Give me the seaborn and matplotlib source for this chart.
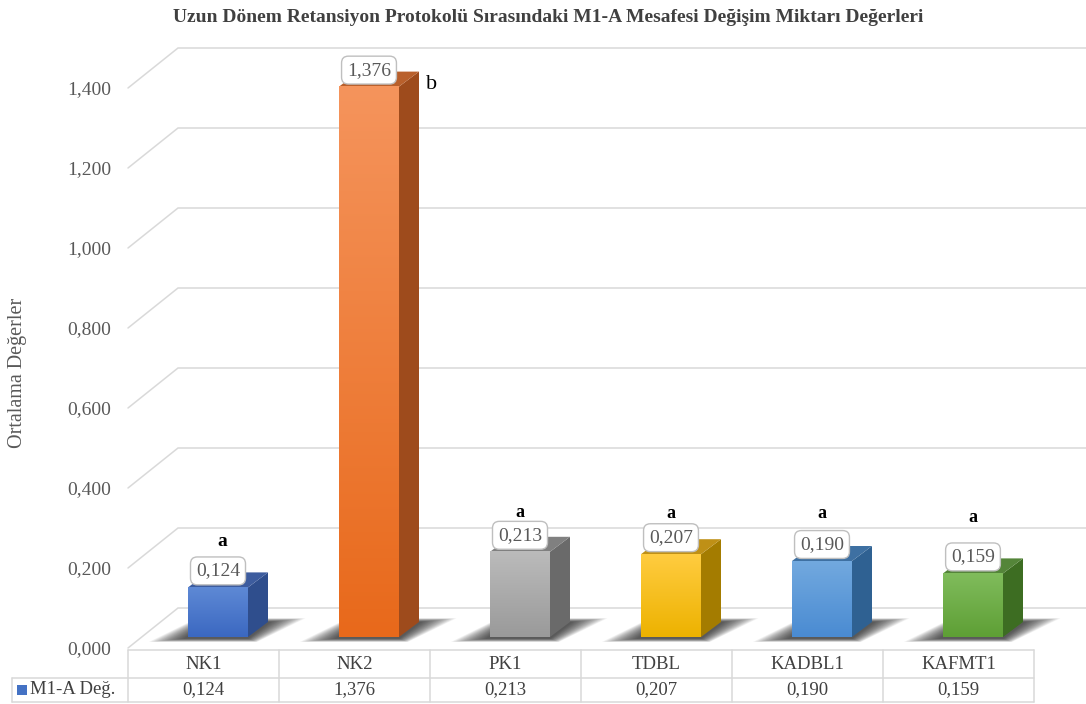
import numpy as np
import matplotlib
matplotlib.use("Agg")
import matplotlib.pyplot as plt
import seaborn as sns
from matplotlib.patches import Polygon
from matplotlib.colors import LinearSegmentedColormap

# ---- data ----
categories = ["NK1", "NK2", "PK1", "TDBL", "KADBL1", "KAFMT1"]
values = [0.124, 1.376, 0.213, 0.207, 0.190, 0.159]
value_labels = ["0,124", "1,376", "0,213", "0,207", "0,190", "0,159"]
group_letters = ["a", "b", "a", "a", "a", "a"]
series_name = "M1-A Değ."
y_ticks = [0.0, 0.2, 0.4, 0.6, 0.8, 1.0, 1.2, 1.4]
y_tick_labels = ["0,000", "0,200", "0,400", "0,600", "0,800", "1,000", "1,200", "1,400"]
title = "Uzun Dönem Retansiyon Protokolü Sırasındaki M1-A Mesafesi Değişim Miktarı Değerleri"
y_label = "Ortalama Değerler"

# ---- styling ----
face_top = ["#5E89D5", "#F5945C", "#BBBBBB", "#FFCC40", "#72A9DF", "#80BC5C"]
face_bottom = ["#3B68C1", "#E8691B", "#9A9A9A", "#EDB200", "#4A8BD2", "#5E9F35"]
side_col = ["#2F4E8D", "#9E4B1C", "#6A6A6A", "#A47C00", "#2F6192", "#3D6D22"]
topf_col = ["#3D5C9E", "#B9602C", "#808080", "#BF9016", "#3E70A2", "#548539"]
letter_offsets_px = [(4, 46), (63, 2), (0, 39), (0, 41), (0, 48), (0, 56)]
letter_sizes = [14, 16, 13, 13, 13, 13]
letter_weights = ["bold", "normal", "bold", "bold", "bold", "bold"]

sns.set_style("white")
plt.rcParams["font.family"] = ["Liberation Serif", "DejaVu Serif"]

W, H = 1086, 704
PX_X = 151.0          # pixels per category
PX_Y = 400.0          # pixels per value unit
FRONT = -11 / PX_Y    # floor front edge relative to bar baseline
BACK = 29 / PX_Y      # back wall relative to bar baseline
WALL_DX = 50 / PX_X
BAR_SHIFT = 14.5 / PX_X
BAR_W = 60 / PX_X
DEPTH_X = 20 / PX_X
DEPTH_Y = 15 / PX_Y
TEXT_C = "#404040"
LABEL_C = "#595959"
GRID_C = "#D9D9D9"

fig = plt.figure(figsize=(W / 100, H / 100), dpi=100)
left_px, right_px, bot_px, top_px = 128, W, 648, 40
ax = fig.add_axes([left_px / W, (H - bot_px) / H, (right_px - left_px) / W, (bot_px - top_px) / H])

xmin = -0.5
xmax = -0.5 + (right_px - left_px) / PX_X
ymin = FRONT
ymax = (637 - top_px) / PX_Y

sns.barplot(x=categories, y=values, hue=categories, palette=face_bottom, width=BAR_W,
            legend=False, saturation=1, linewidth=0, ax=ax, zorder=3)

# wall gridlines (front-left diagonal, then along the back wall)
for v in y_ticks:
    ax.plot([xmin, xmin + WALL_DX, xmax], [v + FRONT, v + BACK, v + BACK],
            color=GRID_C, lw=1.1, zorder=0.5, clip_on=False, solid_joinstyle="miter")

bars = sorted(ax.patches, key=lambda p: p.get_x())
grad = np.linspace(0, 1, 128).reshape(-1, 1)
for i, p in enumerate(bars):
    p.set_x(p.get_x() + BAR_SHIFT)
    x0 = p.get_x()
    w = p.get_width()
    h = p.get_height()
    x1 = x0 + w

    # soft floor shadow, built from stacked translucent layers
    n = 22
    for k in range(n):
        e = 1 - k / n
        ex, ey = 0.24 * e, 0.024 * e
        shadow = Polygon([(x0 - ex - 0.02, -0.004 - ey * 0.35),
                          (x1 + ex * 0.25, -0.004 - ey * 0.35),
                          (x1 + DEPTH_X + ex + 0.01, DEPTH_Y + ey * 0.4),
                          (x0 + DEPTH_X - ex * 0.3, DEPTH_Y + ey * 0.4)],
                         closed=True, facecolor="black", edgecolor="none",
                         alpha=0.045, zorder=1)
        ax.add_patch(shadow)

    # front face gradient
    cmap = LinearSegmentedColormap.from_list(f"g{i}", [face_bottom[i], face_top[i]])
    ax.imshow(grad, extent=(x0, x1, 0, h), origin="lower", cmap=cmap,
              aspect="auto", zorder=3.1, interpolation="bilinear")
    # side face
    ax.add_patch(Polygon([(x1, 0), (x1 + DEPTH_X, DEPTH_Y), (x1 + DEPTH_X, h + DEPTH_Y), (x1, h)],
                         closed=True, facecolor=side_col[i], edgecolor="none", zorder=2.9))
    # top face
    ax.add_patch(Polygon([(x0, h), (x1, h), (x1 + DEPTH_X, h + DEPTH_Y), (x0 + DEPTH_X, h + DEPTH_Y)],
                         closed=True, facecolor=topf_col[i], edgecolor="none", zorder=2.9))

    xc = x0 + w / 2
    ax.annotate(value_labels[i], xy=(xc, h), xytext=(0, 8), textcoords="offset pixels",
                ha="center", va="bottom", fontsize=14, color=LABEL_C, zorder=6,
                bbox=dict(boxstyle="round,pad=0.28,rounding_size=0.35", fc="white",
                          ec="#BFBFBF", lw=1.0))
    dx, dy = letter_offsets_px[i]
    ax.annotate(group_letters[i], xy=(xc, h), xytext=(dx, dy), textcoords="offset pixels",
                ha="center", va="center", fontsize=letter_sizes[i],
                fontweight=letter_weights[i], color="black", zorder=6)

ax.set_xlim(xmin, xmax)
ax.set_ylim(ymin, ymax)
ax.set_xticks([])
ax.set_xlabel("")
ax.set_yticks([v + FRONT for v in y_ticks])
ax.set_yticklabels(y_tick_labels, fontsize=14, color=LABEL_C)
ax.tick_params(axis="y", length=0, pad=12)
for s in ax.spines.values():
    s.set_visible(False)
ax.set_ylabel(y_label, fontsize=14.5, color=LABEL_C, va="center")
ax.yaxis.set_label_coords((18 - left_px) / (right_px - left_px), (bot_px - 373) / (bot_px - top_px))
ax.patch.set_alpha(0)

# ---- data table below the chart ----
tab = fig.add_axes([left_px / W, (H - 702) / H, (right_px - left_px) / W, 52 / H])
tab.set_xlim(xmin, xmax)
tab.set_ylim(52, 0)
tab.axis("off")
leg_left = xmin - (left_px - 12) / PX_X
x_end = xmin + len(categories)
lw_t = 1.1
tab.plot([xmin, x_end], [0, 0], color=GRID_C, lw=lw_t, clip_on=False)
tab.plot([leg_left, x_end], [28, 28], color=GRID_C, lw=lw_t, clip_on=False)
tab.plot([leg_left, x_end], [52, 52], color=GRID_C, lw=lw_t, clip_on=False)
tab.plot([leg_left, leg_left], [28, 52], color=GRID_C, lw=lw_t, clip_on=False)
for k in range(len(categories) + 1):
    tab.plot([xmin + k, xmin + k], [0, 52], color=GRID_C, lw=lw_t, clip_on=False)
for i, c in enumerate(categories):
    tab.text(i, 14.5, c, ha="center", va="center", fontsize=13.5, color=TEXT_C)
    tab.text(i, 40, value_labels[i], ha="center", va="center", fontsize=13.5, color=TEXT_C)
tab.scatter([xmin - (left_px - 22) / PX_X], [40], marker="s", s=55, color="#4472C4",
            clip_on=False, linewidths=0)
tab.text(xmin - (left_px - 30) / PX_X, 40, series_name, ha="left", va="center",
         fontsize=13.5, color=TEXT_C)

fig.text(548 / W, 1 - 17 / H, title, ha="center", va="center", fontsize=14,
         fontweight="bold", color=TEXT_C)

fig.savefig("out.png", dpi=100, facecolor="white")
